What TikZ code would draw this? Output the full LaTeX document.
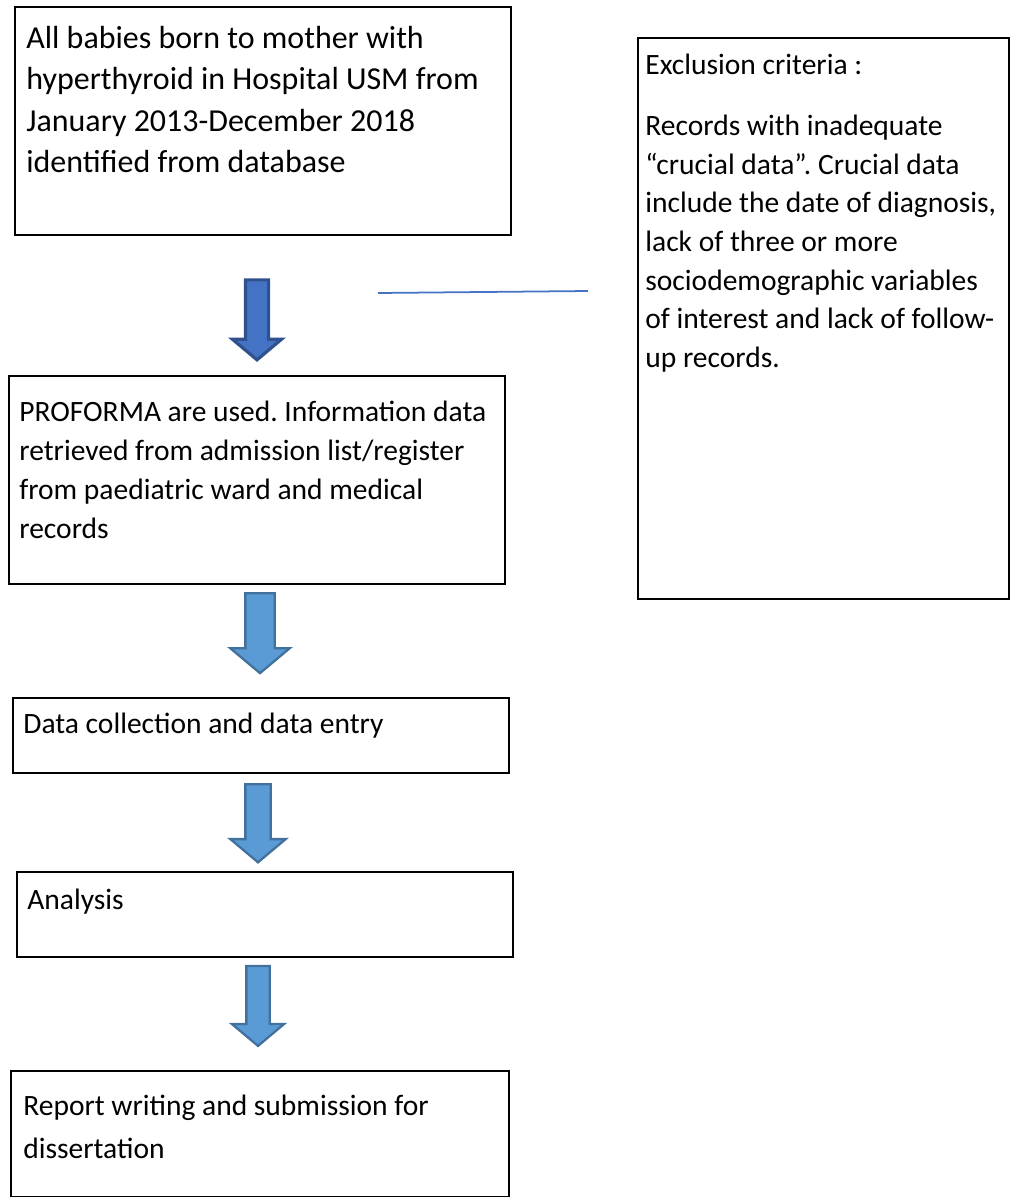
\documentclass[tikz,border=0pt]{standalone}
\usepackage{fontspec}
\setmainfont{Carlito}
\usepackage{tikz}
\usetikzlibrary{shapes.arrows,positioning}
\definecolor{arrowblue}{RGB}{91,155,213}
\definecolor{arrowedge}{RGB}{65,113,156}
\definecolor{startblue}{RGB}{68,114,196}
\definecolor{startedge}{RGB}{47,82,143}
\newcommand{\pu}{0.02cm}
\frenchspacing

\begin{document}
\begin{tikzpicture}[
    x=0.02cm, y=-0.02cm,
    every node/.style={inner sep=0pt},
    flowbox/.style={draw=black, line width=1.1pt, anchor=north west},
    boxtext/.style={anchor=base west, align=flush left, text width=490*\pu,
        font=\fontsize{16.8}{22.8}\selectfont},
    downarrow/.style={single arrow, draw=arrowedge, fill=arrowblue, line width=1.3pt,
        rotate=-90, single arrow tip angle=100, inner xsep=0pt, inner ysep=11.5*\pu,
        minimum height=80*\pu, minimum width=0pt, single arrow head extend=15*\pu}
]
\useasboundingbox (0,0) rectangle (1013,1197);

% boxes
\node[flowbox, minimum width=496*\pu, minimum height=228*\pu] (start) at (14,6) {};
\node[flowbox, minimum width=496*\pu, minimum height=208*\pu] (proforma) at (8,375) {};
\node[flowbox, minimum width=371*\pu, minimum height=561*\pu] (exclusion) at (637,37) {};
\node[flowbox, minimum width=496*\pu, minimum height=75*\pu] (collect) at (12,697) {};
\node[flowbox, minimum width=496*\pu, minimum height=85*\pu] (analysis) at (16,871) {};
\node[flowbox, minimum width=498*\pu, minimum height=126*\pu] (report) at (10,1070) {};

% texts
\node[boxtext, font=\fontsize{18.2}{23.7}\selectfont] (starttext) at ([shift={(12,42)}]start.north west)
    {All babies born to mother with\\hyperthyroid in Hospital USM from\\January 2013-December 2018\\identified from database};
\node[boxtext, font=\fontsize{16.8}{22.3}\selectfont] (proformatext) at ([shift={(11,46)}]proforma.north west)
    {PROFORMA are used. Information data\\retrieved from admission list/register\\from paediatric ward and medical\\records};
\node[boxtext, text width=365*\pu, font=\fontsize{16.8}{22}\selectfont] (exclusiontext) at ([shift={(8,37)}]exclusion.north west)
    {Exclusion criteria :\\[13pt]Records with inadequate\\``crucial data''. Crucial data\\include the date of diagnosis,\\lack of three or more\\sociodemographic variables\\of interest and lack of follow-\\up records.};
\node[boxtext] (collecttext) at ([shift={(11,36)}]collect.north west) {Data collection and data entry};
\node[boxtext] (analysistext) at ([shift={(11,38)}]analysis.north west) {Analysis};
\node[boxtext, font=\fontsize{16.8}{24.5}\selectfont] (reporttext) at ([shift={(13,45)}]report.north west)
    {Report writing and submission for\\dissertation};

% block arrows
\node[downarrow, fill=startblue, draw=startedge, line width=1.8pt, inner ysep=10*\pu,
    single arrow head extend=13*\pu] (arrowone) at (257,315) {};
\node[downarrow, inner ysep=13.5*\pu] (arrowtwo) at (260,627) {};
\node[downarrow, minimum height=78*\pu] (arrowthree) at (258,818) {};
\node[downarrow, inner ysep=10.5*\pu, single arrow head extend=14.5*\pu] (arrowfour) at (258,1001) {};

% exclusion line
\coordinate (linestart) at (378,293);
\coordinate (lineend) at (588,291);
\draw[startblue, line width=1pt] (linestart) -- (lineend);
\end{tikzpicture}
\end{document}
